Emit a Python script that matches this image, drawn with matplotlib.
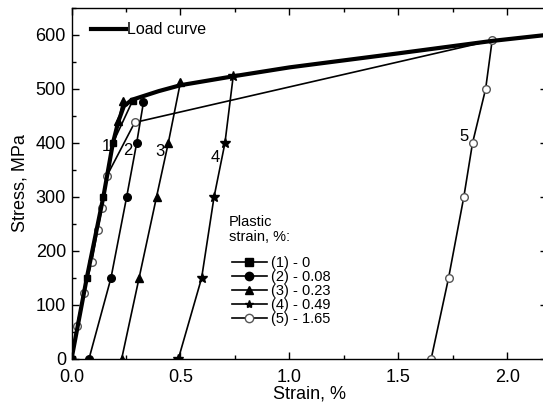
import matplotlib
matplotlib.use("Agg")
import matplotlib.pyplot as plt
from matplotlib.lines import Line2D
from matplotlib.ticker import MultipleLocator

plt.rcParams['font.family'] = ['Liberation Sans', 'DejaVu Sans']

# load curve (thick)
load_x = [0.0, 0.07, 0.146, 0.19, 0.215, 0.24, 0.277, 0.4, 0.5, 0.75, 1.0, 1.25, 1.5, 1.93, 2.2]
load_y = [0, 150, 300, 400, 440, 468, 480, 496, 507, 524, 540, 553, 566, 589, 601]

# unloading / reloading curves
c1_x = [0.0, 0.07, 0.146, 0.19, 0.28]
c1_y = [0, 150, 300, 400, 478]
c2_x = [0.08, 0.181, 0.253, 0.299, 0.33]
c2_y = [0, 150, 300, 400, 475]
c3_x = [0.23, 0.31, 0.39, 0.444, 0.50]
c3_y = [0, 150, 300, 400, 513]
c3_load_x = [0.215, 0.235]
c3_load_y = [440, 478]
c4_x = [0.49, 0.597, 0.654, 0.704, 0.742]
c4_y = [0, 150, 300, 400, 524]
c5_load_x = [0.0, 0.024, 0.057, 0.093, 0.12, 0.14, 0.161, 0.29, 1.93]
c5_load_y = [0, 61, 123, 180, 239, 280, 338, 438, 590]
c5_x = [1.65, 1.73, 1.80, 1.84, 1.90, 1.93]
c5_y = [0, 150, 300, 400, 500, 590]

curve_labels = ['1', '2', '3', '4', '5']
label_x = [0.161, 0.258, 0.406, 0.658, 1.80]
label_y = [393, 387, 384, 373, 412]

legend_names = ['(1) - 0', '(2) - 0.08', '(3) - 0.23', '(4) - 0.49', '(5) - 1.65']

fig = plt.figure(figsize=(5.43, 4.05), dpi=100)
ax = fig.add_axes([0.1317, 0.1136, 0.875, 0.8667])

lw = 1.2
ms = 5.5
ax.plot(c5_load_x, c5_load_y, '-', color='black', lw=lw, marker='o', ms=ms,
        mfc='white', mec='#555555', markevery=list(range(len(c5_load_x) - 1)))
ax.plot(c5_x, c5_y, '-', color='black', lw=lw, marker='o', ms=ms, mfc='white', mec='#555555')
ax.plot(c2_x, c2_y, '-', color='black', lw=lw, marker='o', ms=ms)
ax.plot(c3_x, c3_y, '-', color='black', lw=lw, marker='^', ms=ms + 0.5)
ax.plot(c3_load_x, c3_load_y, '-', color='black', lw=lw, marker='^', ms=ms + 0.5)
ax.plot(c4_x, c4_y, '-', color='black', lw=lw, marker='*', ms=ms + 1.5)
ax.plot(load_x, load_y, '-', color='black', lw=3.0, solid_capstyle='butt')
ax.plot(c1_x, c1_y, '-', color='black', lw=lw, marker='s', ms=ms - 0.5)

for t, x, y in zip(curve_labels, label_x, label_y):
    ax.text(x, y, t, fontsize=12, ha='center', va='center')

ax.set_xlim(0, 2.18)
ax.set_ylim(0, 650)
ax.xaxis.set_major_locator(MultipleLocator(0.5))
ax.xaxis.set_minor_locator(MultipleLocator(0.25))
ax.yaxis.set_major_locator(MultipleLocator(100))
ax.yaxis.set_minor_locator(MultipleLocator(50))
ax.tick_params(which='both', direction='in', top=True, right=True, labelsize=13, width=1)
ax.tick_params(which='major', length=5)
ax.tick_params(which='minor', length=3)
ax.tick_params(axis='x', which='major', pad=7)
ax.tick_params(axis='y', which='major', pad=4)
for s in ax.spines.values():
    s.set_linewidth(1.0)
ax.set_xlabel('Strain, %', fontsize=13, labelpad=0)
ax.set_ylabel('Stress, MPa', fontsize=13, labelpad=5)

h_load = [Line2D([], [], color='black', lw=3.0)]
leg1 = ax.legend(h_load, ['Load curve'], loc='upper left', bbox_to_anchor=(0.01, 1.0),
                 frameon=False, fontsize=11.5, handlelength=2.2, handletextpad=0.1,
                 borderaxespad=0.5)
ax.add_artist(leg1)

markers = [('s', 'black', 'black'), ('o', 'black', 'black'), ('^', 'black', 'black'),
           ('*', 'black', 'black'), ('o', 'white', '#555555')]
handles = [Line2D([], [], color='black', lw=lw, marker=m, ms=6, mfc=fc, mec=ec)
           for m, fc, ec in markers]
ax.text(0.331, 0.370, 'Plastic\nstrain, %:', transform=ax.transAxes, fontsize=10.5,
        ha='left', va='center', linespacing=1.1)
leg2 = ax.legend(handles, legend_names, loc='lower left',
                 bbox_to_anchor=(0.325, 0.076), frameon=False, fontsize=10.5,
                 handlelength=2.4, handletextpad=0.3,
                 labelspacing=0.0, borderaxespad=0.0)

fig.savefig('out.png', dpi=100)
